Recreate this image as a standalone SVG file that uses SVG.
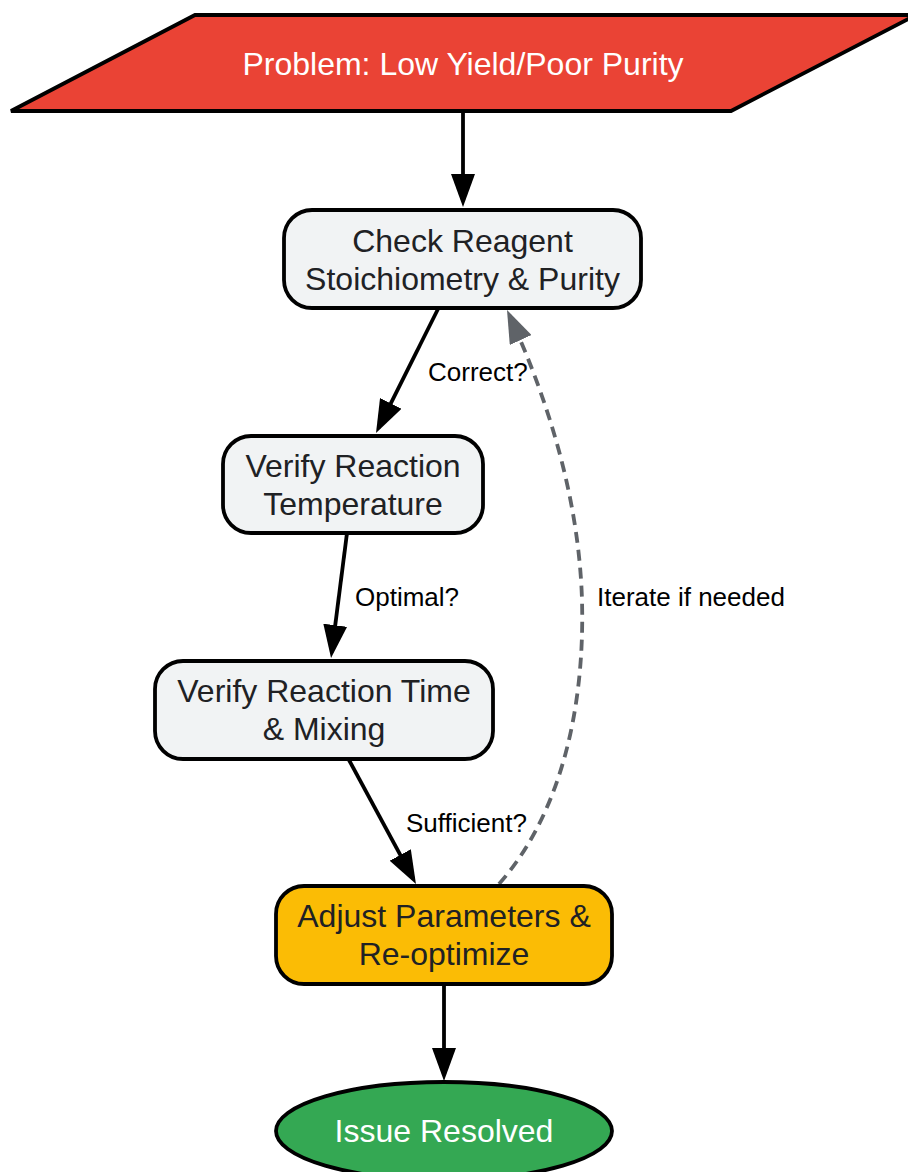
<svg xmlns="http://www.w3.org/2000/svg" width="908" height="1172" viewBox="0 0 908 1172">
<style>
.node{fill:#F1F3F4;stroke:#000;stroke-width:3.8}
.t{font-family:"Liberation Sans",Arial,sans-serif;font-size:32px;fill:#202124;text-anchor:middle}
.tw{font-family:"Liberation Sans",Arial,sans-serif;font-size:32px;fill:#fff;text-anchor:middle}
.lbl{font-family:"Liberation Sans",Arial,sans-serif;font-size:26px;fill:#000}
.e{fill:none;stroke:#000;stroke-width:3.8}
.d{fill:none;stroke:#5F6368;stroke-width:3.8;stroke-dasharray:11,7}
</style>
<defs>
<marker id="ah" markerUnits="userSpaceOnUse" viewBox="0 0 33 24" refX="27" refY="12" markerWidth="33" markerHeight="24" orient="auto"><path d="M0,0 L33,12 L0,24 z" fill="#000"/></marker>
<marker id="ahg" markerUnits="userSpaceOnUse" viewBox="0 0 33 24" refX="27" refY="12" markerWidth="33" markerHeight="24" orient="auto"><path d="M0,0 L33,12 L0,24 z" fill="#5F6368"/></marker>
</defs>
<g id="connectors">
<path class="e" d="M463,111 L463,201" marker-end="url(#ah)"/>
<path class="e" d="M438,309 L378.7,427.6" marker-end="url(#ah)"/>
<path class="e" d="M347,533 L331.8,652" marker-end="url(#ah)"/>
<path class="e" d="M349,760 L413.1,878.7" marker-end="url(#ah)"/>
<path class="e" d="M444,985 L444,1075" marker-end="url(#ah)"/>
<path class="d" d="M499,884 C560,815 585,710 582,600 C579,500 549,402 509.5,315.5" marker-end="url(#ahg)"/>
<text class="lbl" x="428" y="381">Correct?</text>
<text class="lbl" x="355" y="606">Optimal?</text>
<text class="lbl" x="406" y="832">Sufficient?</text>
<text class="lbl" x="597" y="606">Iterate if needed</text>
</g>
<g id="problem">
<polygon points="195,15 916,15 731,111 11,111" fill="#EA4335" stroke="#000" stroke-width="3.8"/>
<text class="tw" x="463" y="75">Problem: Low Yield/Poor Purity</text>
</g>
<g id="check">
<rect class="node" x="284" y="210" width="357" height="98" rx="28"/>
<text class="t" x="462.5" y="252">Check Reagent</text>
<text class="t" x="462.5" y="290">Stoichiometry &amp; Purity</text>
</g>
<g id="temp">
<rect class="node" x="223" y="436" width="260" height="97" rx="28"/>
<text class="t" x="353" y="477">Verify Reaction</text>
<text class="t" x="353" y="515">Temperature</text>
</g>
<g id="time">
<rect class="node" x="155" y="661" width="338" height="98" rx="28"/>
<text class="t" x="324" y="702">Verify Reaction Time</text>
<text class="t" x="324" y="740">&amp; Mixing</text>
</g>
<g id="adjust">
<rect x="276" y="886" width="336" height="98" rx="28" fill="#FBBC05" stroke="#000" stroke-width="3.8"/>
<text class="t" x="444" y="927">Adjust Parameters &amp;</text>
<text class="t" x="444" y="965">Re-optimize</text>
</g>
<g id="resolved">
<ellipse cx="444" cy="1131" rx="168" ry="49" fill="#34A853" stroke="#000" stroke-width="3.8"/>
<text class="tw" x="444" y="1142">Issue Resolved</text>
</g>
</svg>
